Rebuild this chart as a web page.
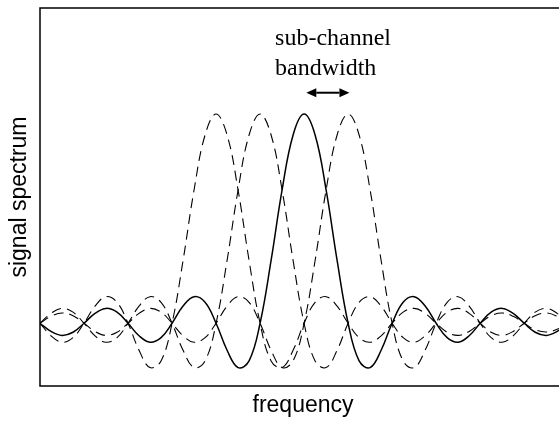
<!DOCTYPE html>
<html>
<head>
<meta charset="utf-8">
<script src="https://cdn.jsdelivr.net/npm/chart.js@4.4.1/dist/chart.umd.min.js"></script>
<style>
  html, body { margin: 0; padding: 0; background: #fff; overflow: hidden; }
  #wrap { width: 566px; height: 422px; }
</style>
</head>
<body>
<div id="wrap"><canvas id="myChart"></canvas></div>
<script>
// frequency, in units of sub-channel spacing (solid carrier at 0)
const freq = [
    -6, -5.75, -5.5, -5.25, -5, -4.75, -4.5, -4.25, -4, -3.75, -3.5, -3.25,
    -3, -2.75, -2.5, -2.25, -2, -1.75, -1.5, -1.25, -1, -0.75, -0.5, -0.25,
    0, 0.25, 0.5, 0.75, 1, 1.25, 1.5, 1.75, 2, 2.25, 2.5, 2.75,
    3, 3.25, 3.5, 3.75, 4, 4.25, 4.5, 4.75, 5, 5.25, 5.5, 5.75, 6,
];

// highlighted sub-channel (solid)
const carrierMain = [
    0, -0.039, -0.058, -0.043, 0, 0.047, 0.071, 0.053, 0, -0.06, -0.091, -0.069,
    0, 0.082, 0.127, 0.1, 0, -0.129, -0.212, -0.18, 0, 0.3, 0.637, 0.9,
    1, 0.9, 0.637, 0.3, 0, -0.18, -0.212, -0.129, 0, 0.1, 0.127, 0.082,
    0, -0.069, -0.091, -0.06, 0, 0.053, 0.071, 0.047, 0, -0.043, -0.058, -0.039, 0,
];

// neighbouring sub-channels (dashed)
const carrierLeft2 = [
    0, -0.06, -0.091, -0.069, 0, 0.082, 0.127, 0.1, 0, -0.129, -0.212, -0.18,
    0, 0.3, 0.637, 0.9, 1, 0.9, 0.637, 0.3, 0, -0.18, -0.212, -0.129,
    0, 0.1, 0.127, 0.082, 0, -0.069, -0.091, -0.06, 0, 0.053, 0.071, 0.047,
    0, -0.043, -0.058, -0.039, 0, 0.036, 0.049, 0.033, 0, -0.031, -0.042, -0.029, 0,
];
const carrierLeft1 = [
    0, 0.047, 0.071, 0.053, 0, -0.06, -0.091, -0.069, 0, 0.082, 0.127, 0.1,
    0, -0.129, -0.212, -0.18, 0, 0.3, 0.637, 0.9, 1, 0.9, 0.637, 0.3,
    0, -0.18, -0.212, -0.129, 0, 0.1, 0.127, 0.082, 0, -0.069, -0.091, -0.06,
    0, 0.053, 0.071, 0.047, 0, -0.043, -0.058, -0.039, 0, 0.036, 0.049, 0.033, 0,
];
const carrierRight1 = [
    0, 0.033, 0.049, 0.036, 0, -0.039, -0.058, -0.043, 0, 0.047, 0.071, 0.053,
    0, -0.06, -0.091, -0.069, 0, 0.082, 0.127, 0.1, 0, -0.129, -0.212, -0.18,
    0, 0.3, 0.637, 0.9, 1, 0.9, 0.637, 0.3, 0, -0.18, -0.212, -0.129,
    0, 0.1, 0.127, 0.082, 0, -0.069, -0.091, -0.06, 0, 0.053, 0.071, 0.047, 0,
];

// annotation
const noteLines = ["sub-channel", "bandwidth"];
const noteX = -0.66;
const noteY = [1.33, 1.185];
const arrowFrom = 0.05;
const arrowTo = 1.03;
const arrowY = 1.102;

const toPoints = (vals) => vals.map((v, i) => ({ x: freq[i], y: v }));

// frame + bandwidth note drawn on top of the plot area
const overlay = {
    id: "overlay",
    afterDraw(chart) {
        const { ctx, chartArea: a } = chart;
        const x = chart.scales.x;
        const y = chart.scales.y;
        ctx.save();
        ctx.strokeStyle = "#000";
        ctx.lineWidth = 1.5;
        ctx.strokeRect(a.left, a.top, a.right - a.left, a.bottom - a.top);

        ctx.fillStyle = "#000";
        ctx.font = '24px "Liberation Serif", "Times New Roman", serif';
        ctx.textAlign = "left";
        ctx.textBaseline = "alphabetic";
        noteLines.forEach((t, i) => {
            ctx.fillText(t, x.getPixelForValue(noteX), y.getPixelForValue(noteY[i]));
        });

        const x0 = x.getPixelForValue(arrowFrom);
        const x1 = x.getPixelForValue(arrowTo);
        const ay = y.getPixelForValue(arrowY);
        const head = 10;
        ctx.lineWidth = 2;
        ctx.beginPath();
        ctx.moveTo(x0 + head, ay);
        ctx.lineTo(x1 - head, ay);
        ctx.stroke();
        ctx.beginPath();
        ctx.moveTo(x0, ay);
        ctx.lineTo(x0 + head, ay - 4.5);
        ctx.lineTo(x0 + head, ay + 4.5);
        ctx.closePath();
        ctx.moveTo(x1, ay);
        ctx.lineTo(x1 - head, ay - 4.5);
        ctx.lineTo(x1 - head, ay + 4.5);
        ctx.closePath();
        ctx.fill();
        ctx.restore();
    },
};

const dashed = (vals) => ({
    data: toPoints(vals),
    borderColor: "#000",
    borderWidth: 1.1,
    borderDash: [10, 6],
    pointRadius: 0,
    tension: 0.4,
    fill: false,
});

const titleFont = { family: '"Liberation Sans", Arial, sans-serif', size: 23 };

const ctx = document.getElementById("myChart").getContext("2d");
const chart = new window.Chart(ctx, {
    type: "line",
    data: {
        datasets: [
            {
                data: toPoints(carrierMain),
                borderColor: "#000",
                borderWidth: 1.5,
                pointRadius: 0,
                tension: 0.4,
                fill: false,
            },
            dashed(carrierLeft2),
            dashed(carrierLeft1),
            dashed(carrierRight1),
        ],
    },
    options: {
        responsive: true,
        maintainAspectRatio: false,
        animation: false,
        layout: { padding: { top: 8, left: 0, right: 0, bottom: 0 } },
        plugins: {
            legend: { display: false },
            tooltip: { enabled: false },
        },
        scales: {
            x: {
                type: "linear",
                min: -6,
                max: 5.95,
                grid: { display: false, drawTicks: false },
                border: { display: false },
                ticks: { display: false },
                title: {
                    display: true,
                    text: "frequency",
                    color: "#000",
                    font: titleFont,
                    padding: { top: 6.2, bottom: 2.2 },
                },
            },
            y: {
                min: -0.3,
                max: 1.507,
                grid: { display: false, drawTicks: false },
                border: { display: false },
                ticks: { display: false },
                title: {
                    display: true,
                    text: "signal spectrum",
                    color: "#000",
                    font: titleFont,
                    padding: { top: 6, bottom: 6.4 },
                },
            },
        },
    },
    plugins: [overlay],
});
</script>
</body>
</html>
